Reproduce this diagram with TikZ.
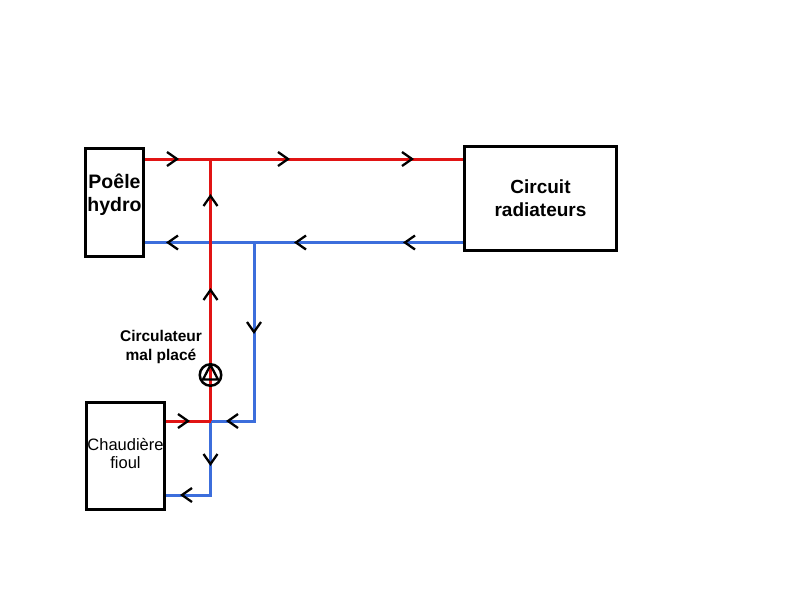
\documentclass[tikz,border=0pt]{standalone}
\usepackage{fontspec}
\setmainfont{Liberation Sans}
\begin{document}
\begin{tikzpicture}[x=1pt,y=-1pt,
  box/.style={draw=black, line width=3pt, rectangle, inner sep=0pt},
  hot/.style={draw={rgb,255:red,225;green,20;blue,20}, line width=3pt},
  cold/.style={draw={rgb,255:red,60;green,110;blue,220}, line width=3pt},
  chevline/.style={draw=black, line width=2.3pt, line join=miter},
  chev/.pic={\path[chevline] (-10,-7) -- (0,0) -- (-10,7);},
  pump/.style={draw=black, line width=2.5pt, circle, minimum size=21.5pt, inner sep=0pt},
  bigbold/.style={font=\fontsize{19.5}{23}\selectfont\bfseries, align=center},
  midbold/.style={font=\fontsize{15.5}{19}\selectfont\bfseries, align=center},
  regtext/.style={font=\fontsize{16.5}{18}\selectfont, align=center}
]
\useasboundingbox (0,0) rectangle (800,600);
\fill[white] (0,0) rectangle (800,600);

% boxes
\node[box, minimum width=58pt, minimum height=108pt,
      label={[bigbold, yshift=8pt]center:Poêle\\hydro}] (poele) at (114.5,202.5) {};
\node[box, minimum width=152pt, minimum height=104pt,
      label={[bigbold, font=\fontsize{19}{23}\selectfont\bfseries]center:Circuit\\radiateurs}] (circuit) at (540.5,198.5) {};
\node[box, minimum width=78pt, minimum height=107pt,
      label={[regtext, yshift=2.5pt]center:Chaudière\\fioul}] (chaud) at (125.5,456) {};

% junctions
\coordinate (jr1) at (210.5,159);
\coordinate (jb2) at (254,242.5);
\coordinate (jr2) at (210.5,421);
\coordinate (jb3) at (254,421);
\coordinate (jb4) at (210.5,495);

% cold pipes
\path[cold] (circuit.west |- jb2) -- (poele.east |- jb2);
\path[cold] (jb2) -- (jb3) -- (jr2) -- (jb4) -- (chaud.east |- jb4);
% hot pipes
\path[hot] (poele.east |- jr1) -- (circuit.west |- jr1);
\path[hot] (jr1) -- (jr2);
\path[hot] (chaud.east |- jr2) -- (jr2);

% pump
\node[pump] (pump) at (210.5,375) {};
\draw[black, line width=2.3pt, line join=round] ([yshift=10pt]pump.center) -- ([xshift=-7.5pt,yshift=-4.5pt]pump.center) -- ([xshift=7.5pt,yshift=-4.5pt]pump.center) -- cycle;
\node[midbold] (lbl) at (161,347) {Circulateur\\mal placé};

% flow chevrons
\pic at (177,159) {chev};
\pic at (288,159) {chev};
\pic at (412,159) {chev};
\pic[rotate=180] at (168,242.5) {chev};
\pic[rotate=180] at (296,242.5) {chev};
\pic[rotate=180] at (405,242.5) {chev};
\pic[rotate=90] at (210.5,196) {chev};
\pic[rotate=90] at (210.5,290) {chev};
\pic[rotate=-90] at (254,332) {chev};
\pic at (188,421) {chev};
\pic[rotate=180] at (228,421) {chev};
\pic[rotate=-90] at (210.5,464) {chev};
\pic[rotate=180] at (182,495) {chev};
\end{tikzpicture}
\end{document}
